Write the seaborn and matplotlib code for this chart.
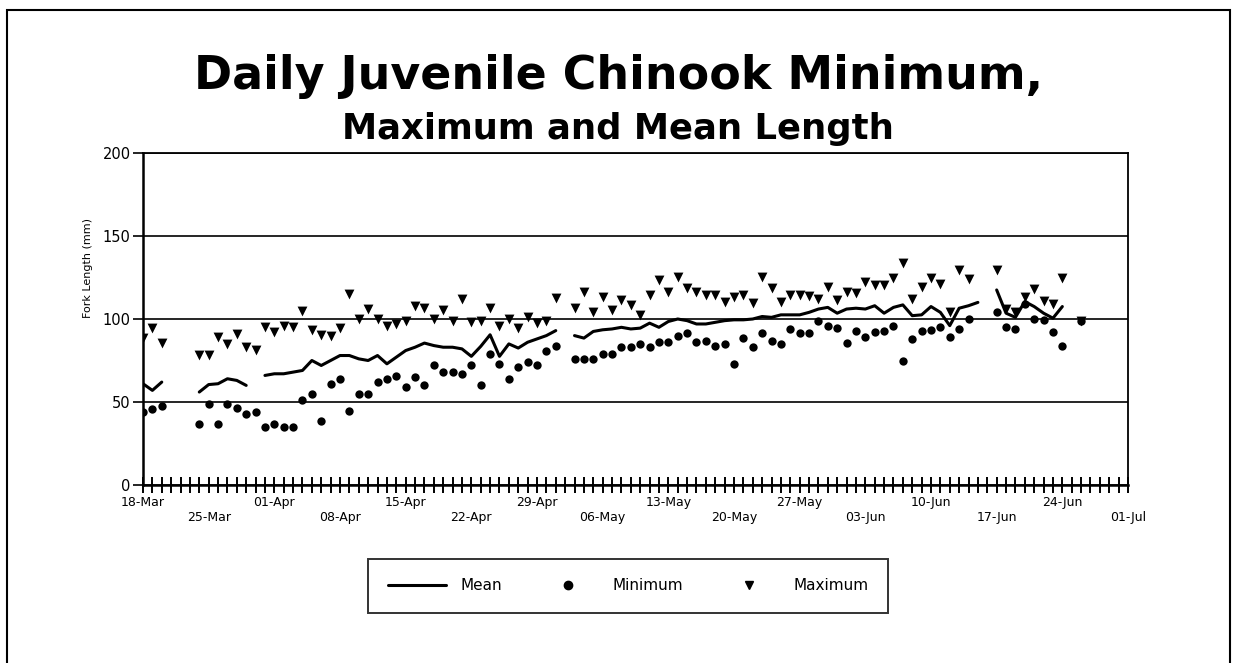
import numpy as np
import pandas as pd
import matplotlib
matplotlib.use("Agg")
import matplotlib.pyplot as plt
import matplotlib.dates as mdates
from matplotlib.lines import Line2D
from matplotlib.patches import Rectangle
import seaborn as sns

nan = np.nan

# -- Data (one value per day from 18-Mar) --
start_date = "2004-03-18"
end_date = "2004-06-26"

mean_len = [
    61, 57, 62, nan, nan, nan, 56, 60.5, 61, 64,
    63, 60, nan, 66, 67, 67, 68, 69, 75, 72,
    75, 78, 78, 76, 75, 78, 73, 77, 81, 83,
    85.5, 84, 83, 83, 82, 77.5, 83.5, 90.5, 77.5, 85,
    82.5, 86, 88, 90, 93, nan, 90, 88.5, 92.5, 93.5,
    94, 95, 94, 94.5, 97.5, 95, 98.5, 100, 99, 97,
    97, 98, 99, 99.5, 99.5, 100, 101.5, 101, 102.5, 102.5,
    102.5, 104, 106, 107, 103.5, 106, 106.5, 106, 108, 103.5,
    107, 108.5, 102, 102.5, 107.5, 104, 96, 106.5, 108, 110,
    nan, 117.5, 103.5, 101, 110.5, 107.5, 103.5, 100.5, 107.5, nan,
    99,
]

min_len = [
    44, 46, 47.5, nan, nan, nan, 36.5, 48.5, 37, 48.5,
    46.5, 43, 44, 35, 36.5, 35, 35, 51.5, 55, 38.5,
    61, 64, 44.5, 55, 55, 62, 64, 65.5, 59, 65,
    60, 72, 68, 68, 67, 72.5, 60, 79, 73, 64,
    71, 74, 72, 81, 84, nan, 76, 76, 76, 79,
    79, 83, 83, 85, 83, 86, 86, 90, 91.5, 86,
    87, 84, 85, 73, 88.5, 83, 91.5, 87, 85, 94,
    91.5, 91.5, 99, 96, 94.5, 85.5, 93, 89, 92, 93,
    96, 75, 88, 93, 93.5, 95, 89, 94, 100, nan,
    nan, 104.5, 95, 94, 109, 100, 99.5, 92, 84, nan,
    99,
]

max_len = [
    88.5, 94.5, 85.5, nan, nan, nan, 78.5, 78.5, 89, 85,
    91, 83, 81.5, 95, 92, 96, 95, 105, 93.5, 90.5,
    89.5, 94.5, 115, 100, 106, 100, 95.5, 97, 98.5, 108,
    106.5, 100, 105.5, 98.5, 112, 98, 99, 106.5, 95.5, 100,
    94.5, 101.5, 97.5, 98.5, 112.5, nan, 106.5, 116, 104.5, 113,
    105.5, 111.5, 108.5, 102.5, 114.5, 123.5, 116.5, 125.5, 118.5, 116.5,
    114.5, 114.5, 110.5, 113.5, 114.5, 109.5, 125.5, 118.5, 110.5, 114.5,
    114.5, 114, 112, 119.5, 111.5, 116.5, 115.5, 122.5, 120.5, 120.5,
    124.5, 133.5, 112, 119.5, 125, 121, 104.5, 129.5, 124, nan,
    nan, 129.5, 106, 104.5, 113.5, 118, 111, 109, 124.5, nan,
    99,
]

week_labels = [
    "18-Mar", "25-Mar", "01-Apr", "08-Apr", "15-Apr", "22-Apr", "29-Apr", "06-May",
    "13-May", "20-May", "27-May", "03-Jun", "10-Jun", "17-Jun", "24-Jun", "01-Jul",
]
y_ticks = [0, 50, 100, 150, 200]

dates = pd.date_range(start_date, end_date, freq="D")
df = pd.DataFrame({"date": dates, "mean": mean_len, "min": min_len, "max": max_len})
# Excel leaves gaps in the line on blank days -> one unit per unbroken run
df["segment"] = df["mean"].isna().cumsum()
line_df = df.dropna(subset=["mean"])

# -- Style --------------------------------
sns.set_style("white")
plt.rcParams["font.family"] = ["DejaVu Sans"]
plt.rcParams["text.color"] = "black"
plt.rcParams["xtick.color"] = "black"
plt.rcParams["ytick.color"] = "black"

fig = plt.figure(figsize=(12.36, 6.63), dpi=100)
ax = fig.add_axes([143 / 1236, 1 - 485 / 663, (1128 - 143) / 1236, (485 - 153) / 663])

# -- Series -------------------------------
sns.lineplot(
    data=line_df, x="date", y="mean", units="segment", estimator=None,
    color="black", linewidth=2.2, ax=ax, legend=False,
)
sns.scatterplot(
    data=df, x="date", y="min", marker="o", s=36, color="black",
    linewidth=0, ax=ax, legend=False,
)
sns.scatterplot(
    data=df, x="date", y="max", marker="v", s=50, color="black",
    linewidth=0, ax=ax, legend=False,
)

# -- Axes ---------------------------------
week_dates = pd.date_range(start_date, periods=len(week_labels), freq="7D")
ax.set_xlim(week_dates[0], week_dates[-1])
ax.set_ylim(0, 200)

ax.set_xticks(week_dates)
ax.set_xticklabels(
    [lbl if i % 2 == 0 else "\n" + lbl for i, lbl in enumerate(week_labels)],
    fontsize=9,
)
ax.xaxis.set_minor_locator(mdates.DayLocator())
ax.tick_params(axis="x", which="both", bottom=True, direction="inout",
               length=12, width=1.4, pad=2, color="black", labelcolor="black")

ax.set_yticks(y_ticks)
ax.tick_params(axis="y", left=True, direction="out", length=7, width=1.2,
               labelsize=10.5, pad=2, color="black", labelcolor="black")

ax.set_xlabel("")
ax.set_ylabel("")
fig.text(88 / 1236, 1 - 268 / 663, "Fork Length (mm)", rotation=90,
         ha="center", va="center", fontsize=8)

ax.yaxis.grid(True, color="black", linewidth=1.2)
ax.xaxis.grid(False)
ax.set_axisbelow(True)
for name, sp in ax.spines.items():
    sp.set_color("black")
    sp.set_linewidth(1.8 if name in ("left", "bottom") else 1.3)

# -- Titles -------------------------------
fig.text(0.5, 1 - 89 / 663, "Daily Juvenile Chinook Minimum,",
         ha="center", va="baseline", fontsize=33, weight="bold")
fig.text(0.5, 1 - 139 / 663, "Maximum and Mean Length",
         ha="center", va="baseline", fontsize=25.5, weight="bold")

# -- Legend -------------------------------
handles = [
    Line2D([], [], color="black", linewidth=2.2),
    Line2D([], [], color="black", marker="o", linestyle="none", markersize=6),
    Line2D([], [], color="black", marker="v", linestyle="none", markersize=6),
]
leg = fig.legend(
    handles, ["Mean", "Minimum", "Maximum"], ncol=3, loc="center",
    bbox_to_anchor=(628 / 1236, 1 - 586 / 663), fontsize=11,
    frameon=True, fancybox=False, handlelength=3.8, handletextpad=1.0,
    columnspacing=2.4, borderpad=1.3,
)
leg.get_frame().set_edgecolor("black")
leg.get_frame().set_linewidth(1.4)

# outer chart border (bottom edge is cut off in the scan)
fig.patches.append(Rectangle(
    (7 / 1236, -0.02), (1230 - 7) / 1236, 1.02 - 10 / 663,
    transform=fig.transFigure, fill=False, edgecolor="black", linewidth=1.5,
))

fig.savefig("out.png", dpi=100)
